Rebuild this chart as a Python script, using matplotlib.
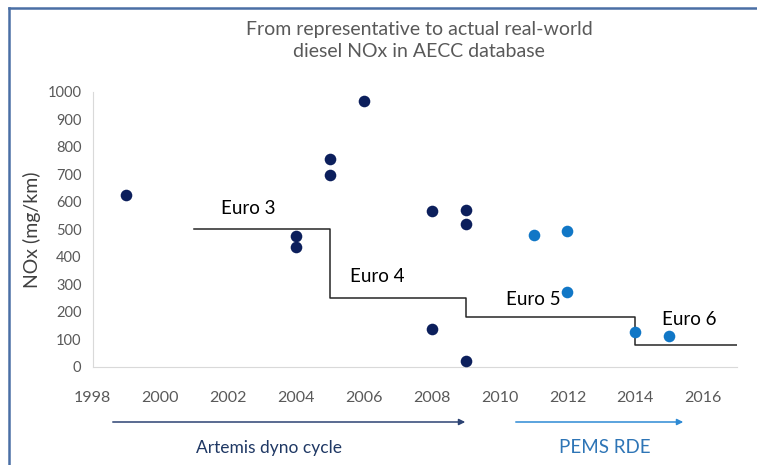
import matplotlib.pyplot as plt
from matplotlib.lines import Line2D

plt.rcParams['font.family'] = ['Lato', 'DejaVu Sans']

# Artemis dyno cycle measurements
dyno_year = [1999, 2004, 2004, 2005, 2005, 2006, 2008, 2008, 2009, 2009, 2009]
dyno_nox = [627, 476, 438, 755, 697, 967, 568, 137, 571, 520, 22]

# PEMS RDE measurements
pems_year = [2011, 2012, 2012, 2014, 2015]
pems_nox = [479, 495, 273, 126, 111]

# Euro limits (step line)
limit_year = [2001, 2005, 2005, 2009, 2009, 2014, 2014, 2017]
limit_nox = [500, 500, 250, 250, 180, 180, 80, 80]
euro_labels = ['Euro 3', 'Euro 4', 'Euro 5', 'Euro 6']
euro_label_x = [2002.6, 2006.4, 2011.0, 2015.6]
euro_label_y = [578, 328, 246, 172]

fig = plt.figure(figsize=(7.57, 4.65), dpi=100)
ax = fig.add_axes([0.1223, 0.2108, 0.8513, 0.5914])

ax.plot(limit_year, limit_nox, color='#262626', lw=1.1, zorder=1)
ax.scatter(dyno_year, dyno_nox, s=70, color='#0c1f5c', zorder=3, linewidths=0)
ax.scatter(pems_year, pems_nox, s=70, color='#1177c6', zorder=3, linewidths=0)
for lab, x, y in zip(euro_labels, euro_label_x, euro_label_y):
    ax.text(x, y, lab, ha='center', va='center', fontsize=13.5, color='black')

ax.set_xlim(1998, 2017)
ax.set_ylim(0, 1000)
ax.set_xticks(range(1998, 2017, 2))
ax.set_yticks(range(0, 1001, 100))
ax.tick_params(axis='y', length=0, labelsize=10.5, labelcolor='#595959', pad=8)
ax.tick_params(axis='x', length=0, labelsize=11.5, labelcolor='#595959', pad=17)
for s in ['top', 'right']:
    ax.spines[s].set_visible(False)
for s in ['left', 'bottom']:
    ax.spines[s].set_color('#d9d9d9')
ax.set_ylabel('NOx (mg/km)', fontsize=14, color='#404040', labelpad=5)

fig.text(419 / 757, 1 - 40.5 / 465, 'From representative to actual real-world\ndiesel NOx in AECC database',
         ha='center', va='center', fontsize=14, color='#595959', linespacing=1.4)

# bottom arrows
ax.annotate('', xy=(468 / 757, 1 - 422 / 465), xytext=(110 / 757, 1 - 422 / 465),
            xycoords='figure fraction', textcoords='figure fraction',
            arrowprops=dict(arrowstyle='-|>', color='#2c4373', lw=1.1, mutation_scale=9))
ax.annotate('', xy=(686 / 757, 1 - 422 / 465), xytext=(513 / 757, 1 - 422 / 465),
            xycoords='figure fraction', textcoords='figure fraction',
            arrowprops=dict(arrowstyle='-|>', color='#2e8ad4', lw=1.1, mutation_scale=9))
fig.text(268.5 / 757, 1 - 448 / 465, 'Artemis dyno cycle', ha='center', va='center',
         fontsize=12.5, color='#1f3864')
fig.text(604.5 / 757, 1 - 447 / 465, 'PEMS RDE', ha='center', va='center',
         fontsize=13.5, color='#2e75b6')

# frame border (left and top)
fig.add_artist(Line2D([9 / 757, 9 / 757], [0, 1 - 8 / 465], color='#4a6fa5', lw=1.8))
fig.add_artist(Line2D([9 / 757, 1], [1 - 8 / 465, 1 - 8 / 465], color='#4a6fa5', lw=1.8))

fig.savefig('out.png', dpi=100)
